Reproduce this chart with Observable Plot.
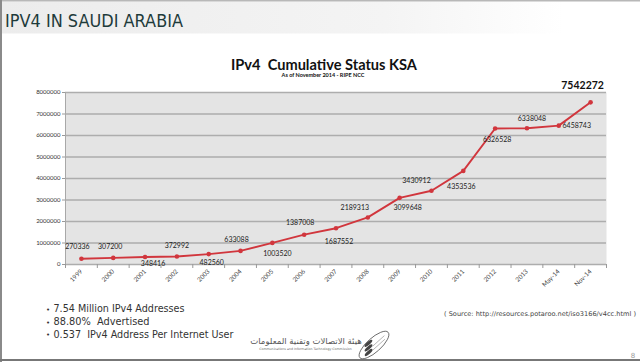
<!DOCTYPE html>
<html><head><meta charset="utf-8">
<script src="https://cdn.jsdelivr.net/npm/d3@7"></script>
<script src="https://cdn.jsdelivr.net/npm/@observablehq/plot@0.6"></script>
<style>
body{margin:0;background:#fff;}
#slide{position:relative;width:640px;height:362px;overflow:hidden;background:#fff;}
#deco{position:absolute;left:0;top:0;}
#deco text{white-space:pre;}
#chart{position:absolute;left:0;top:78px;}
</style></head><body>
<div id="slide">
<svg id="deco" width="640" height="362" viewBox="0 0 640 362">
  <defs>
    <linearGradient id="hdr" x1="0" x2="1" y1="0" y2="0">
      <stop offset="0" stop-color="#ececec"/>
      <stop offset="0.6" stop-color="#f4f4f4"/>
      <stop offset="0.88" stop-color="#ffffff"/>
    </linearGradient>
  </defs>
  <rect x="2" y="1.5" width="638" height="32" fill="url(#hdr)"/>
  <line x1="0" x2="640" y1="0.75" y2="0.75" stroke="#b8b8b8" stroke-width="1.5"/>
  <line x1="1" x2="1" y1="0" y2="362" stroke="#8a8a8a" stroke-width="2"/>
  <line x1="0" x2="640" y1="360" y2="360" stroke="#777" stroke-width="2"/>
  <text x="5" y="26.7" font-family="DejaVu Sans" font-size="17" fill="#1e3b3b" textLength="178" lengthAdjust="spacingAndGlyphs">IPV4 IN SAUDI ARABIA</text>
  <text x="324" y="70" text-anchor="middle" font-family="Lato" font-weight="bold" font-size="15" fill="#111" textLength="186" lengthAdjust="spacingAndGlyphs" xml:space="preserve">IPv4  Cumulative Status KSA</text>
  <text x="323" y="77.3" text-anchor="middle" font-family="Lato" font-weight="bold" font-size="5.5" fill="#111">As of November 2014 - RIPE NCC</text>
  <g font-family="DejaVu Sans" font-size="10" fill="#333">
    <text x="46" y="312" font-size="7">•</text><text x="53.5" y="312.3" textLength="131" lengthAdjust="spacingAndGlyphs">7.54 Million IPv4 Addresses</text>
    <text x="46" y="324.7" font-size="7">•</text><text x="53.5" y="325" textLength="96" lengthAdjust="spacingAndGlyphs" xml:space="preserve">88.80%  Advertised</text>
    <text x="46" y="337.4" font-size="7">•</text><text x="53.5" y="337.7" textLength="180" lengthAdjust="spacingAndGlyphs" xml:space="preserve">0.537  IPv4 Address Per Internet User</text>
  </g>
  <text x="444" y="315.5" font-family="DejaVu Sans" font-size="6.5" fill="#444" textLength="192" lengthAdjust="spacingAndGlyphs">( Source: http://resources.potaroo.net/iso3166/v4cc.html )</text>
  <text x="306" y="344" text-anchor="middle" font-family="DejaVu Sans" font-size="8.5" fill="#555" direction="rtl">هيئة الاتصالات وتقنية المعلومات</text>
  <text x="305.5" y="349.5" text-anchor="middle" font-family="DejaVu Sans" font-size="3.2" fill="#666">Communications and Information Technology Commission</text>
  <g transform="translate(374,345) rotate(-42)">
    <ellipse cx="0" cy="0" rx="19" ry="7" fill="none" stroke="#555" stroke-width="0.8"/>
    <ellipse cx="-3" cy="-5" rx="5" ry="1.6" fill="#444"/>
    <ellipse cx="-6" cy="-1.5" rx="5" ry="1.6" fill="#444"/>
    <ellipse cx="-9" cy="2" rx="5" ry="1.6" fill="#444"/>
    <line x1="-2" y1="0" x2="14" y2="0" stroke="#777" stroke-width="0.5"/>
    <line x1="-4" y1="3" x2="12" y2="3" stroke="#777" stroke-width="0.5"/>
  </g>
  <text x="633" y="358" text-anchor="middle" font-family="DejaVu Sans" font-size="7" fill="#999">8</text>
</svg>
<div id="chart"></div>
</div>
<script>
const categories = ["1999","2000","2001","2002","2003","2004","2005","2006","2007","2008","2009","2010","2011","2012","2013","May-14","Nov-14"];
const addresses = [270336, 307200, 348416, 372992, 482560, 633088, 1003520, 1387008, 1687552, 2189313, 3099648, 3430912, 4353536, 6326528, 6338048, 6458743, 7542272];
const yTickValues = [0, 1000000, 2000000, 3000000, 4000000, 5000000, 6000000, 7000000, 8000000];

const data = categories.map((c, i) => ({i, c, v: addresses[i]}));
const boundaries = d3.range(categories.length + 1).map(i => i - 0.5);

// label nudges (pixels) for each value label
const nudge = [[-4,-12],[-3,-11],[8,7],[0,-11],[3,9],[-4,-11],[5,11],[-4,-12],[3,14],[-13,-10],[8,10],[-15,-10],[-2,16],[2,11],[5,-9],[18,0]];

const red = "#d1363d";
const labelMarks = nudge.map(([dx, dy], k) =>
  Plot.text(data.filter(d => d.i === k), {x: "i", y: "v", text: d => String(d.v), dx, dy, fontSize: 7, fill: "#222"}));

const last = data[data.length - 1];
const chart = Plot.plot({
  width: 640,
  height: 217,
  marginTop: 14,
  marginBottom: 31,
  marginLeft: 65,
  marginRight: 34,
  style: {fontFamily: "Lato", background: "transparent", overflow: "visible"},
  x: {type: "linear", domain: [-0.5, categories.length - 0.5], label: null},
  y: {domain: [0, 8000000], label: null},
  marks: [
    Plot.frame({fill: "#e4e4e4", stroke: null}),
    Plot.gridY(yTickValues, {stroke: "#adadad", strokeOpacity: 1, strokeWidth: 1.3}),
    Plot.ruleX([-0.5], {stroke: "#a8a8a8"}),
    Plot.axisY(yTickValues, {tickSize: 3, tickPadding: 2, tickFormat: d => String(d), fontSize: 6, fill: "#333", stroke: "#999", label: null}),
    Plot.axisX(boundaries, {tickSize: 4, tickFormat: () => "", stroke: "#999", label: null}),
    Plot.axisX(d3.range(categories.length), {tickSize: 0, tickPadding: 6, tickRotate: -45, tickFormat: i => categories[i], fontSize: 6.3, fill: "#444", label: null}),
    Plot.line(data, {x: "i", y: "v", stroke: red, strokeWidth: 1.9}),
    Plot.dot(data, {x: "i", y: "v", r: 2.3, fill: red}),
    ...labelMarks,
    Plot.text([last], {x: "i", y: "v", text: d => String(d.v), dx: -8, dy: -17, fontSize: 10.5, fontWeight: "bold", fill: "#111"})
  ]
});
document.getElementById("chart").appendChild(chart);
</script>
</body></html>
